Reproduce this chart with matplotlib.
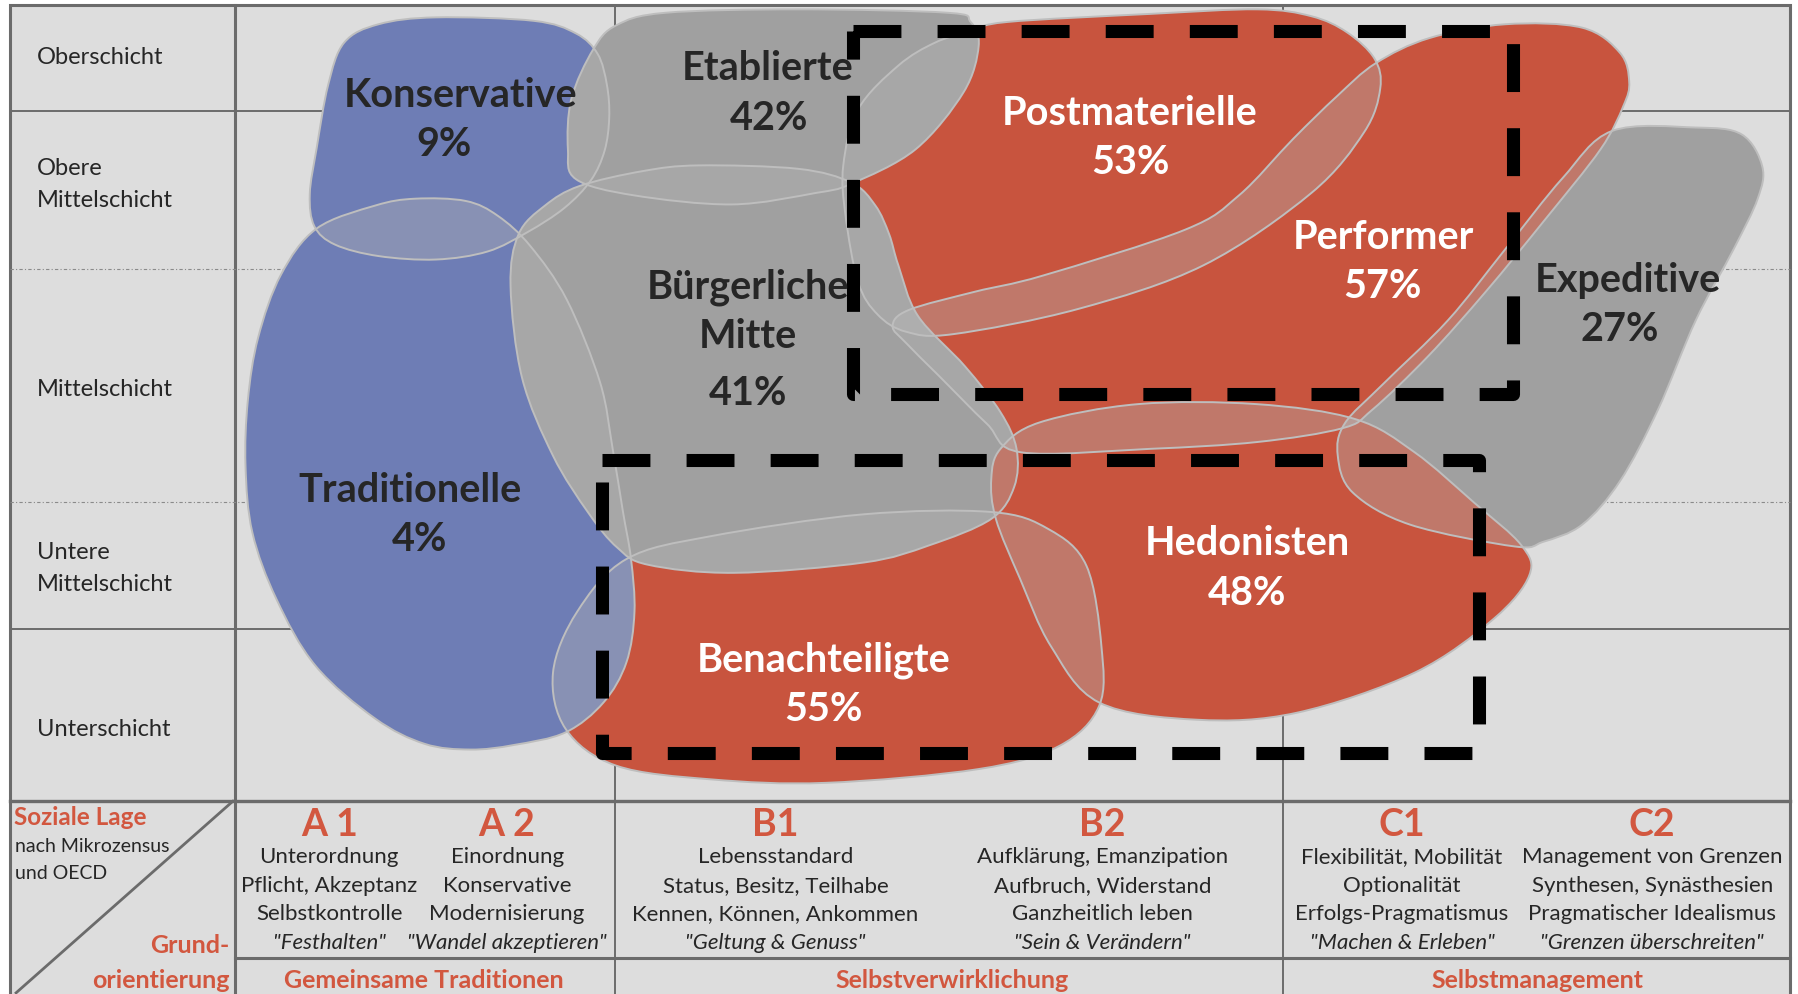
import numpy as np
import matplotlib.pyplot as plt
from matplotlib.path import Path
from matplotlib.patches import PathPatch, Rectangle

plt.rcParams['font.family'] = ['Lato', 'DejaVu Sans']

# Milieus: name, share, colour group
milieu_names = ['Expeditive', 'Postmaterielle', 'Performer', 'Benachteiligte', 'Traditionelle',
                'Konservative', 'Bürgerliche\nMitte', 'Etablierte', 'Hedonisten']
milieu_shares = ['27%', '53%', '57%', '55%', '4%', '9%', '41%', '42%', '48%']
milieu_groups = ['grau', 'rot', 'rot', 'rot', 'blau', 'blau', 'grau', 'grau', 'rot']

# Umrisse der Milieus (Diagrammkoordinaten, y nach unten)
expeditive_outline = [(1405, 115), (1478, 112), (1518, 118), (1536, 146), (1532, 174), (1511, 218),
                      (1478, 280), (1445, 358), (1412, 420), (1379, 458), (1345, 473), (1320, 477),
                      (1229, 458), (1179, 430), (1166, 398), (1172, 370), (1205, 336), (1262, 280),
                      (1312, 218), (1362, 156)]
postmat_outline = [(846, 28), (878, 20), (1002, 13), (1096, 9), (1143, 15), (1174, 29), (1198, 52),
                   (1203, 78), (1189, 116), (1143, 169), (1049, 232), (940, 270), (831, 292),
                   (790, 290), (765, 275), (748, 247), (737, 189), (735, 145), (748, 96), (783, 58),
                   (815, 38)]
performer_outline = [(1199, 56), (1246, 34), (1312, 22), (1379, 25), (1412, 47), (1420, 72),
                     (1415, 93), (1395, 131), (1346, 193), (1295, 255), (1245, 311), (1196, 358),
                     (1170, 374), (1096, 386), (1002, 392), (890, 395), (860, 370), (818, 328),
                     (790, 300), (778, 285), (792, 271), (850, 255), (909, 241), (1033, 201),
                     (1080, 171), (1127, 122), (1165, 85)]
benacht_outline = [(546, 488), (620, 468), (753, 449), (864, 447), (914, 462), (947, 494),
                   (960, 564), (958, 616), (923, 651), (853, 671), (720, 683), (620, 680),
                   (537, 668), (493, 636), (482, 587), (503, 534)]
trad_outline = [(276, 200), (327, 180), (362, 174), (406, 176), (434, 189), (462, 215), (494, 262),
                (523, 334), (534, 392), (543, 447), (550, 488), (553, 534), (546, 578), (526, 613),
                (493, 639), (448, 650), (410, 654), (370, 649), (327, 627), (275, 581), (241, 523),
                (220, 465), (214, 407), (216, 350), (225, 295), (245, 240)]
konserv_outline = [(300, 38), (330, 22), (380, 16), (465, 19), (502, 30), (521, 48), (529, 75),
                   (531, 103), (527, 132), (515, 158), (492, 182), (460, 203), (425, 220),
                   (380, 227), (330, 224), (292, 214), (274, 198), (270, 170), (276, 130), (286, 75)]
buerger_outline = [(505, 163), (560, 150), (609, 145), (696, 148), (742, 160), (763, 180),
                   (775, 205), (783, 232), (800, 276), (841, 320), (872, 360), (886, 392),
                   (884, 425), (864, 453), (810, 476), (753, 491), (640, 500), (565, 493),
                   (538, 478), (513, 448), (482, 398), (455, 330), (445, 250), (452, 205), (475, 180)]
etabl_outline = [(537, 23), (580, 12), (696, 9), (826, 12), (846, 20), (853, 41), (840, 81),
                 (798, 131), (742, 161), (711, 169), (638, 179), (552, 171), (502, 157),
                 (495, 131), (498, 87), (517, 44)]
hedon_outline = [(864, 418), (872, 392), (906, 369), (992, 353), (1095, 353), (1181, 366),
                 (1233, 395), (1285, 439), (1326, 476), (1333, 502), (1302, 540), (1233, 587),
                 (1130, 622), (1043, 628), (958, 613), (916, 564), (889, 505), (868, 453)]
milieu_outlines = [expeditive_outline, postmat_outline, performer_outline, benacht_outline,
                   trad_outline, konserv_outline, buerger_outline, etabl_outline, hedon_outline]

# Beschriftungen
schicht_labels = ['Oberschicht', 'Obere\nMittelschicht', 'Mittelschicht',
                  'Untere\nMittelschicht', 'Unterschicht']
orient_codes = ['A 1', 'A 2', 'B1', 'B2', 'C1', 'C2']
orient_lines = [
    ['Unterordnung', 'Pflicht, Akzeptanz', 'Selbstkontrolle', '"Festhalten"'],
    ['Einordnung', 'Konservative', 'Modernisierung', '"Wandel akzeptieren"'],
    ['Lebensstandard', 'Status, Besitz, Teilhabe', 'Kennen, Können, Ankommen', '"Geltung & Genuss"'],
    ['Aufklärung, Emanzipation', 'Aufbruch, Widerstand', 'Ganzheitlich leben', '"Sein & Verändern"'],
    ['Flexibilität, Mobilität', 'Optionalität', 'Erfolgs-Pragmatismus', '"Machen & Erleben"'],
    ['Management von Grenzen', 'Synthesen, Synästhesien', 'Pragmatischer Idealismus',
     '"Grenzen überschreiten"'],
]
orient_groups = ['Gemeinsame Traditionen', 'Selbstverwirklichung', 'Selbstmanagement']

# Layout / Stil
fill_colors = {'blau': '#6E7DB5', 'grau': '#A0A0A0', 'rot': '#C8543E'}
text_colors = {'blau': '#262626', 'grau': '#262626', 'rot': 'white'}
name_pos = [(1419, 244), (985, 99), (1206, 207), (718, 575), (357, 427), (401, 83),
            (652, 250), (669, 60), (1087, 474)]
share_x = [1412, 985, 1205, 718, 366, 387, 652, 670, 1087]
schicht_y = [50, 161, 339, 495, 636]
orient_x = [287, 442, 676, 961, 1222, 1440]
group_x = [369, 830, 1340]
red_txt = '#D2573F'
grid_col = '#6B6B6B'


def smooth_path(pts):
    P = np.asarray(pts, float)
    n = len(P)
    verts = [P[0]]
    codes = [Path.MOVETO]
    for i in range(n):
        p0, p1, p2, p3 = P[i - 1], P[i], P[(i + 1) % n], P[(i + 2) % n]
        verts += [p1 + (p2 - p0) / 6, p2 - (p3 - p1) / 6, p2]
        codes += [Path.CURVE4] * 3
    verts.append(P[0])
    codes.append(Path.CLOSEPOLY)
    return Path(verts, codes)


fig = plt.figure(figsize=(17.99, 9.95), dpi=100, facecolor='white')
ax = fig.add_axes([0, 0, 1, 1])
ax.set_xlim(0, 1568)
ax.set_ylim(867, 0)
ax.axis('off')

# Hintergrund und Raster
ax.add_patch(Rectangle((9, 5), 1551, 880, facecolor='#DDDDDD', edgecolor=grid_col, lw=2.2, zorder=0))
ax.plot([205, 205], [5, 867], color=grid_col, lw=2.2, zorder=1)
for x in [536, 1118]:
    ax.plot([x, x], [5, 867], color=grid_col, lw=1.4, zorder=1)
for y in [97.5, 549]:
    ax.plot([9, 1560], [y, y], color=grid_col, lw=1.4, zorder=1)
for y in [235, 438]:
    ax.plot([9, 1560], [y, y], color='#8A8A8A', lw=0.8, ls=(0, (3, 2, 1, 2)), zorder=1)
ax.plot([9, 1560], [699, 699], color=grid_col, lw=2.4, zorder=1)
ax.plot([205, 1560], [836, 836], color=grid_col, lw=2.2, zorder=1)
ax.plot([14, 203], [866, 699], color=grid_col, lw=2, zorder=1)

# Milieus
paths = [smooth_path(o) for o in milieu_outlines]
for p, g in zip(paths, milieu_groups):
    ax.add_patch(PathPatch(p, facecolor=fill_colors[g], edgecolor='none', zorder=2))
# Überschneidungen aufhellen
for i in range(len(paths)):
    for j in range(i + 1, len(paths)):
        t = PathPatch(paths[j], facecolor='#B4B4B4', alpha=0.38, edgecolor='none', zorder=3)
        ax.add_patch(t)
        t.set_clip_path(paths[i], ax.transData)
for p in paths:
    ax.add_patch(PathPatch(p, facecolor='none', edgecolor='#BEBEBE', lw=1.4, zorder=4))

# gestrichelte Rahmen
for (x0, y0, x1, y1) in [(743.5, 28, 1319, 344), (525, 402, 1289, 657)]:
    ax.plot([x0, x1, x1, x0, x0], [y0, y0, y1, y1, y0], color='black', lw=9.4,
            ls=(0, (3.67, 2.77)), solid_joinstyle='round', dash_capstyle='butt', zorder=5)

# Milieu-Beschriftungen
for name, share, g, (x, y), sx in zip(milieu_names, milieu_shares, milieu_groups, name_pos, share_x):
    parts = name.split('\n')
    for k, s in enumerate(parts):
        ax.text(x, y + k * 43, s, ha='center', va='center', fontsize=28.5, fontweight='bold',
                color=text_colors[g], zorder=6)
    sy = y + len(parts) * 43 + (7 if len(parts) > 1 else 0)
    ax.text(sx, sy, share, ha='center', va='center', fontsize=28.5, fontweight='bold',
            color=text_colors[g], zorder=6)

# Schichten
for lab, y in zip(schicht_labels, schicht_y):
    parts = lab.split('\n')
    y0 = y - (len(parts) - 1) * 14
    for k, s in enumerate(parts):
        ax.text(32, y0 + k * 28, s, ha='left', va='center', fontsize=17, color='#262626', zorder=6)

# Grundorientierung
for code, lines, x in zip(orient_codes, orient_lines, orient_x):
    ax.text(x, 719, code, ha='center', va='center', fontsize=27, fontweight='bold', color=red_txt)
    for k, s in enumerate(lines):
        ax.text(x, 747 + k * 24.8, s, ha='center', va='center', fontsize=16, color='#262626',
                style='italic' if k == 3 else 'normal')
for g, x in zip(orient_groups, group_x):
    ax.text(x, 854, g, ha='center', va='center', fontsize=18, fontweight='bold', color=red_txt)

ax.text(12, 712, 'Soziale Lage', ha='left', va='center', fontsize=17.5, fontweight='bold', color=red_txt)
ax.text(13, 738, 'nach Mikrozensus', ha='left', va='center', fontsize=14, color='#262626')
ax.text(13, 761, 'und OECD', ha='left', va='center', fontsize=14, color='#262626')
ax.text(200, 824, 'Grund-', ha='right', va='center', fontsize=18, fontweight='bold', color=red_txt)
ax.text(200, 854, 'orientierung', ha='right', va='center', fontsize=18, fontweight='bold', color=red_txt)

fig.savefig('out.png', dpi=100, facecolor='white')
